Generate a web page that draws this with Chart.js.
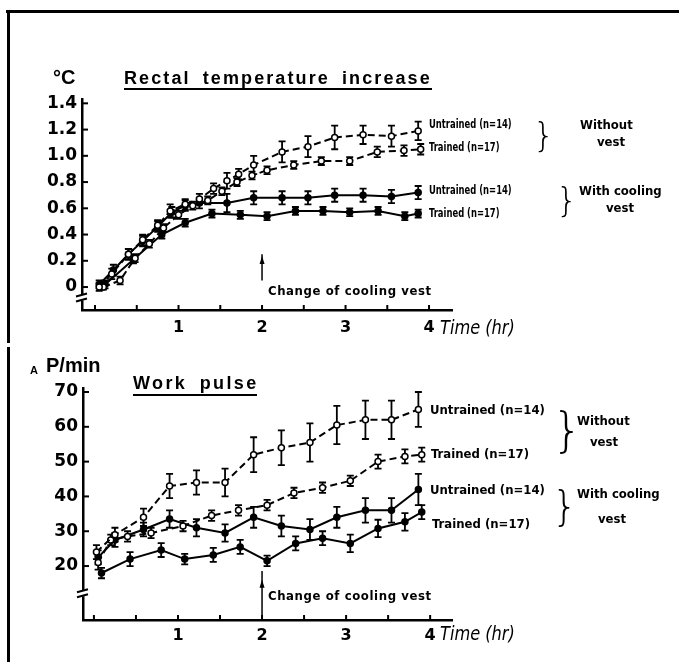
<!DOCTYPE html>
<html><head><meta charset="utf-8">
<script src="https://cdn.jsdelivr.net/npm/chart.js@4.4.1/dist/chart.umd.min.js"></script>
<style>
html,body{margin:0;padding:0;background:#fff;}
body{width:679px;height:671px;position:relative;overflow:hidden;font-family:"Liberation Sans",Arial,sans-serif;color:#000;}
canvas{position:absolute;left:0;}
.t{position:absolute;white-space:nowrap;line-height:1;transform:translateY(-50%);}
.b{font-weight:bold;}
.lab{font-family:"DejaVu Sans Condensed","DejaVu Sans",sans-serif;font-weight:bold;font-size:13px;}
.nar{transform:translateY(-50%) scaleX(0.72);transform-origin:0 50%;}
.chg{letter-spacing:0.6px;}
.title{font-weight:bold;font-size:18px;letter-spacing:2.1px;word-spacing:5px;}
.time{font-family:"DejaVu Sans Condensed","DejaVu Sans",sans-serif;font-style:italic;font-size:20px;transform:translateY(-50%) scaleX(0.9);transform-origin:0 50%;}
.brace{font-family:"DejaVu Sans",sans-serif;font-weight:200;}
.rule{position:absolute;background:#000;}
</style>
</head><body>
<div class="rule" style="left:6px;top:10px;width:673px;height:3px"></div>
<div class="rule" style="left:7px;top:10px;width:3px;height:333px"></div>
<div class="rule" style="left:7px;top:347px;width:3px;height:315px"></div>

<canvas id="top" width="679" height="340" style="top:0"></canvas>
<canvas id="bot" width="679" height="331" style="top:340px"></canvas>

<!-- top panel text -->
<div class="t b" style="left:53px;top:77px;font-size:20px">°C</div>
<div class="t title" style="left:124px;top:78px">Rectal temperature increase</div>
<div class="rule" style="left:124px;top:88px;width:308px;height:2px"></div>
<div class="t lab nar" style="left:429px;top:123px">Untrained (n=14)</div>
<div class="t lab nar" style="left:429px;top:146px">Trained (n=17)</div>
<div class="t brace" style="left:533px;top:135px;font-size:34px">}</div>
<div class="t lab" style="left:580px;top:124px">Without</div>
<div class="t lab" style="left:597px;top:141px">vest</div>
<div class="t lab nar" style="left:429px;top:189px">Untrained (n=14)</div>
<div class="t lab nar" style="left:429px;top:212px">Trained (n=17)</div>
<div class="t brace" style="left:556px;top:200px;font-size:34px">}</div>
<div class="t lab" style="left:579px;top:190px">With cooling</div>
<div class="t lab" style="left:606px;top:207px">vest</div>
<div class="t lab chg" style="left:268px;top:290px">Change of cooling vest</div>
<div class="t time" style="left:440px;top:327px">Time (hr)</div>

<!-- bottom panel text -->
<div class="t b" style="left:30px;top:370px;font-size:11px">A</div>
<div class="t b" style="left:46px;top:365px;font-size:20px">P/min</div>
<div class="t title" style="left:133px;top:383px;letter-spacing:2.4px">Work pulse</div>
<div class="rule" style="left:133px;top:394px;width:124px;height:2px"></div>
<div class="t lab" style="left:430px;top:409px">Untrained (n=14)</div>
<div class="t lab" style="left:431px;top:453px">Trained (n=17)</div>
<div class="t brace" style="left:552px;top:430px;font-size:48px">}</div>
<div class="t lab" style="left:577px;top:420px">Without</div>
<div class="t lab" style="left:590px;top:441px">vest</div>
<div class="t lab" style="left:430px;top:489px">Untrained (n=14)</div>
<div class="t lab" style="left:432px;top:523px">Trained (n=17)</div>
<div class="t brace" style="left:552px;top:506px;font-size:40px">}</div>
<div class="t lab" style="left:577px;top:493px">With cooling</div>
<div class="t lab" style="left:598px;top:518px">vest</div>
<div class="t lab chg" style="left:268px;top:595px">Change of cooling vest</div>
<div class="t time" style="left:440px;top:633px">Time (hr)</div>

<script>
// ---------- DATA: Rectal temperature increase (°C) ----------
const xTickLabels = [1, 2, 3, 4];
const tempTicks = [0, 0.2, 0.4, 0.6, 0.8, 1.0, 1.2, 1.4];
const pulseTicks = [20, 30, 40, 50, 60, 70];

const tempUntrainedNoVestT   = [0.05, 0.2, 0.4, 0.57, 0.75, 0.9, 1.08, 1.25, 1.42, 1.58, 1.72, 1.9, 2.24, 2.55, 2.87, 3.21, 3.55, 3.87];
const tempUntrainedNoVestY   = [0.00, 0.10, 0.25, 0.36, 0.47, 0.58, 0.63, 0.67, 0.75, 0.81, 0.86, 0.93, 1.03, 1.07, 1.14, 1.16, 1.15, 1.19];
const tempUntrainedNoVestErr = [0.03, 0.04, 0.04, 0.04, 0.04, 0.05, 0.04, 0.04, 0.04, 0.06, 0.04, 0.07, 0.08, 0.08, 0.09, 0.07, 0.08, 0.07];

const tempTrainedNoVestT   = [0.1, 0.3, 0.48, 0.65, 0.82, 1.0, 1.17, 1.35, 1.52, 1.7, 1.88, 2.06, 2.38, 2.71, 3.05, 3.38, 3.7, 3.9];
const tempTrainedNoVestY   = [0.00, 0.05, 0.22, 0.33, 0.45, 0.55, 0.62, 0.66, 0.73, 0.80, 0.85, 0.89, 0.93, 0.96, 0.96, 1.03, 1.04, 1.05];
const tempTrainedNoVestErr = [0.02, 0.03, 0.03, 0.03, 0.03, 0.03, 0.03, 0.03, 0.03, 0.03, 0.03, 0.03, 0.03, 0.03, 0.03, 0.04, 0.04, 0.04];

const tempUntrainedVestT   = [0.05, 0.22, 0.4, 0.57, 0.75, 0.92, 1.08, 1.25, 1.58, 1.9, 2.24, 2.55, 2.87, 3.21, 3.55, 3.87];
const tempUntrainedVestY   = [0.02, 0.13, 0.25, 0.35, 0.46, 0.57, 0.62, 0.64, 0.64, 0.68, 0.68, 0.68, 0.70, 0.70, 0.69, 0.72];
const tempUntrainedVestErr = [0.03, 0.04, 0.04, 0.04, 0.04, 0.04, 0.04, 0.04, 0.07, 0.05, 0.05, 0.05, 0.05, 0.05, 0.05, 0.05];

const tempTrainedVestT   = [0.12, 0.46, 0.8, 1.08, 1.4, 1.74, 2.06, 2.4, 2.73, 3.05, 3.39, 3.71, 3.87];
const tempTrainedVestY   = [0.02, 0.21, 0.40, 0.49, 0.56, 0.55, 0.54, 0.58, 0.58, 0.57, 0.58, 0.54, 0.56];
const tempTrainedVestErr = [0.03, 0.03, 0.03, 0.03, 0.03, 0.03, 0.03, 0.03, 0.03, 0.03, 0.03, 0.03, 0.03];

// ---------- DATA: Work pulse (P/min) ----------
const pulseUntrainedNoVestT   = [0.03, 0.25, 0.59, 0.9, 1.22, 1.56, 1.9, 2.23, 2.57, 2.89, 3.23, 3.54, 3.86];
const pulseUntrainedNoVestY   = [24, 29, 34, 43, 44, 44, 52, 54, 55.5, 60.5, 62, 62, 65];
const pulseUntrainedNoVestErr = [2, 2, 2.5, 3.5, 3.5, 4, 5, 5, 5.5, 5.5, 5.5, 5.5, 5];

const pulseTrainedNoVestT   = [0.05, 0.2, 0.4, 0.68, 1.06, 1.4, 1.72, 2.06, 2.38, 2.72, 3.05, 3.38, 3.7, 3.9];
const pulseTrainedNoVestY   = [21, 27.5, 28.5, 29.5, 31.5, 34.5, 36, 37.5, 41, 42.5, 44.5, 50, 51.5, 52];
const pulseTrainedNoVestErr = [2, 1.5, 1.5, 1.5, 1.5, 1.5, 1.5, 1.5, 1.5, 1.5, 1.5, 2, 2, 2];

const pulseUntrainedVestT   = [0.05, 0.25, 0.59, 0.9, 1.22, 1.56, 1.9, 2.23, 2.57, 2.89, 3.23, 3.54, 3.86];
const pulseUntrainedVestY   = [22.5, 27.5, 30.5, 33.5, 31, 29.5, 34, 31.5, 30.5, 34, 36, 36, 42];
const pulseUntrainedVestErr = [2, 2, 2, 2.5, 2.5, 2.5, 3, 3, 3, 3, 3.5, 3.5, 4.5];

const pulseTrainedVestT   = [0.09, 0.43, 0.8, 1.08, 1.42, 1.74, 2.06, 2.4, 2.72, 3.05, 3.38, 3.7, 3.9];
const pulseTrainedVestY   = [18, 22, 24.6, 22, 23.2, 25.5, 21.5, 26.5, 28, 26.5, 30.8, 32.7, 35.5];
const pulseTrainedVestErr = [1.5, 2, 2, 1.5, 2, 2, 1.5, 2, 2, 2.5, 2.5, 2.5, 2];

// ---------- helpers ----------
const pts = (t, y) => t.map((v, i) => ({x: v, y: y[i]}));
function series(t, y, err, dashed) {
  return {
    data: pts(t, y), errors: err,
    showLine: true, borderColor: '#000', borderWidth: 2, tension: 0,
    borderDash: dashed ? [7, 4] : [],
    pointRadius: 3, pointHoverRadius: 3, pointBorderWidth: 1.5,
    pointBorderColor: '#000', pointBackgroundColor: dashed ? '#fff' : '#000'
  };
}

const decor = {
  id: 'decor',
  beforeDatasetsDraw(chart) {
    const c = chart.ctx, xs = chart.scales.x, ys = chart.scales.y;
    c.save(); c.strokeStyle = '#000'; c.lineWidth = 1.8;
    chart.data.datasets.forEach(ds => {
      ds.data.forEach((p, i) => {
        const e = ds.errors[i];
        const x = xs.getPixelForValue(p.x);
        const y1 = ys.getPixelForValue(p.y + e), y2 = ys.getPixelForValue(p.y - e);
        c.beginPath();
        c.moveTo(x, y1); c.lineTo(x, y2);
        c.moveTo(x - 3.5, y1); c.lineTo(x + 3.5, y1);
        c.moveTo(x - 3.5, y2); c.lineTo(x + 3.5, y2);
        c.stroke();
      });
    });
    c.restore();
  },
  afterDraw(chart, args, o) {
    const c = chart.ctx, xs = chart.scales.x, ys = chart.scales.y;
    const ax = chart.chartArea.left, ay = chart.chartArea.bottom;
    c.save(); c.strokeStyle = '#000'; c.fillStyle = '#000'; c.lineWidth = 2;
    for (let v = 0; v <= 4.001; v += 0.5) {
      const x = xs.getPixelForValue(v);
      c.beginPath(); c.moveTo(x, ay); c.lineTo(x, ay - 5); c.stroke();
    }
    o.yTicks.forEach(v => {
      const y = ys.getPixelForValue(v);
      c.beginPath(); c.moveTo(ax, y); c.lineTo(ax + 6, y); c.stroke();
    });
    const by = ys.getPixelForValue(o.breakAt);
    c.fillStyle = '#fff'; c.fillRect(ax - 3, by - 3, 6, 6);
    c.beginPath();
    c.moveTo(ax - 6, by - 1); c.lineTo(ax + 5, by - 4);
    c.moveTo(ax - 6, by + 4); c.lineTo(ax + 5, by + 1);
    c.stroke();
    const axX = xs.getPixelForValue(o.arrowAt);
    const yA = ys.getPixelForValue(o.arrowFrom), yB = ys.getPixelForValue(o.arrowTo);
    c.lineWidth = 1.5; c.fillStyle = '#000';
    c.beginPath(); c.moveTo(axX, yA); c.lineTo(axX, yB); c.stroke();
    const ym = yB + (yA - yB) * 0.3;
    c.beginPath(); c.moveTo(axX, ym - 6); c.lineTo(axX - 2.5, ym + 2); c.lineTo(axX + 2.5, ym + 2); c.closePath(); c.fill();
    c.restore();
  }
};

function makeChart(id, datasets, opt) {
  return new Chart(document.getElementById(id), {
    type: 'scatter',
    data: {datasets},
    plugins: [decor],
    options: {
      responsive: false, animation: false, devicePixelRatio: 1,
      layout: {padding: {left: 0, top: opt.top, right: opt.right, bottom: 0}},
      plugins: {legend: {display: false}, tooltip: {enabled: false}, decor: opt.decor},
      scales: {
        x: {
          type: 'linear', min: opt.xmin, max: opt.xmax,
          grid: {display: false, drawTicks: false},
          border: {display: true, color: '#000', width: 2.5},
          afterBuildTicks: s => { s.ticks = xTickLabels.map(v => ({value: v})); },
          afterFit: s => { s.height = opt.xh; },
          ticks: {padding: opt.xpad, color: '#000', font: {family: 'DejaVu Sans', size: 16, weight: 'bold'}, callback: v => String(v)}
        },
        y: {
          type: 'linear', min: opt.ymin, max: opt.ymax,
          grid: {display: false, drawTicks: false},
          border: {display: true, color: '#000', width: 2.5},
          afterBuildTicks: s => { s.ticks = opt.yTicks.map(v => ({value: v})); },
          afterFit: s => { s.width = opt.yw; },
          ticks: {padding: 5, color: '#000', font: {family: 'DejaVu Sans', size: 17, weight: 'bold'}, callback: opt.yfmt}
        }
      }
    }
  });
}

makeChart('top', [
  series(tempUntrainedNoVestT, tempUntrainedNoVestY, tempUntrainedNoVestErr, true),
  series(tempTrainedNoVestT, tempTrainedNoVestY, tempTrainedNoVestErr, true),
  series(tempUntrainedVestT, tempUntrainedVestY, tempUntrainedVestErr, false),
  series(tempTrainedVestT, tempTrainedVestY, tempTrainedVestErr, false)
], {
  top: 99, right: 227, xh: 30, xpad: 8, yw: 82,
  xmin: -0.156, xmax: 4.275, ymin: -0.175, ymax: 1.433, yTicks: tempTicks,
  yfmt: v => v === 0 ? '0' : v.toFixed(1),
  decor: {yTicks: tempTicks, breakAt: -0.08, arrowAt: 2.0, arrowFrom: 0.05, arrowTo: 0.25}
});

makeChart('bot', [
  series(pulseUntrainedNoVestT, pulseUntrainedNoVestY, pulseUntrainedNoVestErr, true),
  series(pulseTrainedNoVestT, pulseTrainedNoVestY, pulseTrainedNoVestErr, true),
  series(pulseUntrainedVestT, pulseUntrainedVestY, pulseUntrainedVestErr, false),
  series(pulseTrainedVestT, pulseTrainedVestY, pulseTrainedVestErr, false)
], {
  top: 48, right: 227, xh: 51, xpad: 6, yw: 83,
  xmin: -0.13, xmax: 4.26, ymin: 4.5, ymax: 71.15, yTicks: pulseTicks,
  yfmt: v => String(v),
  decor: {yTicks: pulseTicks, breakAt: 12.2, arrowAt: 2.0, arrowFrom: 4.5, arrowTo: 18.6}
});
</script>
</body></html>
